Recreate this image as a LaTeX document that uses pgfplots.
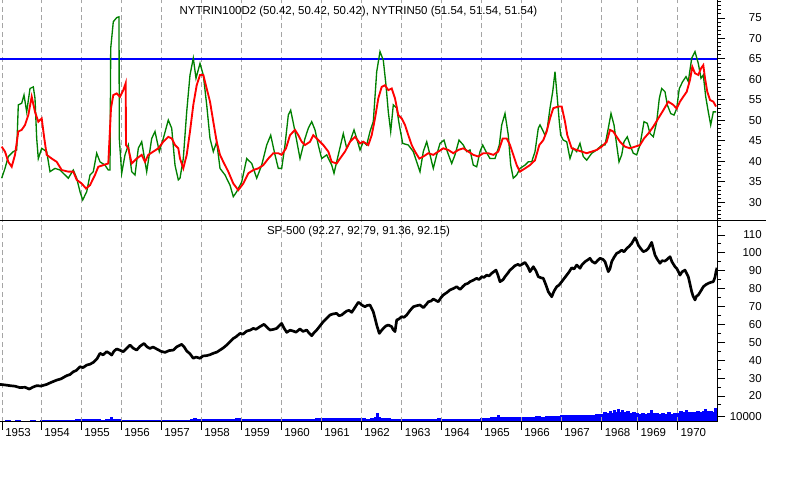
\documentclass[border=0pt]{standalone}
\usepackage{fontspec}
\setmainfont{Liberation Sans}
\usepackage{pgfplots}
\pgfplotsset{compat=1.18}
\definecolor{trgreen}{RGB}{0,128,0}
\definecolor{trred}{RGB}{255,0,0}
\definecolor{trblue}{RGB}{0,0,255}
\definecolor{gridgray}{RGB}{165,165,165}
\begin{document}
\begin{tikzpicture}
\useasboundingbox (0,0) rectangle (600pt,-375pt);
\pgfplotsset{
  mypanel/.style={
    scale only axis, width=537.75pt, xmin=0, xmax=717,
    anchor=north west,
    axis line style={draw=none},
    ytick pos=right, yticklabel pos=right,
    tick align=outside,
    major tick length=6pt, minor tick length=3pt,
    tick style={black, line width=0.75pt},
    xtick={2,41,81,121,161,201,241,281,321,361,401.7,441,481,521,561,601.5,637.3,677.3},
    xmajorgrids,
    major grid style={draw=gridgray, line width=0.75pt, dash pattern=on 3.75pt off 2.5pt},
    /pgf/number format/assume math mode=true,
    tick label style={font=\fontsize{8.6pt}{10pt}\selectfont},
    yticklabel style={anchor=east, inner sep=0pt, xshift=27.75pt},
  }
}
% ---------------- upper panel ----------------
\begin{axis}[mypanel, at={(0pt,0pt)}, height=165pt,
  ymin=25.70, ymax=79.40,
  ytick={30,35,...,75},
  minor ytick={26,27,28,29,31,32,33,34,36,37,38,39,41,42,43,44,46,47,48,49,51,52,53,54,56,57,58,59,61,62,63,64,66,67,68,69,71,72,73,74,76,77,78,79},
  xticklabels={}, every x tick/.style={draw=none},
]
\addplot[color=trblue, line width=1.1pt] coordinates {(0,65) (717,65)};
\addplot[trgreen, line width=1pt] coordinates {
(1.7,35.9) (5,38.3) (8.3,41.2) (13.3,42.4) (16.7,42.8) (18.3,53.8) (21.7,54.2) (24,56.2) (26.7,52.1) (30,57.8) (33.3,58.2) (35,55.4) (36.7,45.6) (38.3,40.7) (41.7,43.2) (46.7,42.4) (50,37.5) (55,38.3) (60,37.9) (65,36.7) (68.3,35.9) (73.3,37.9) (76.7,35.9) (80,32.6) (82.7,30.6) (86.7,32.6) (90,36.7) (93.3,37.5) (96.7,42.0) (100,39.9) (105,39.1) (108.3,37.9) (110,37.9) (110.7,67.6) (113.3,74.1) (116.7,75.1) (119,75.3) (119.3,45.6) (121.7,37.1) (125,41.6) (128.3,44.0) (131.7,37.5) (135,36.7) (138.3,43.2) (141.7,44.8) (146.7,37.5) (151.7,45.6) (155,47.3) (159.3,42.4) (163.3,45.6) (168.3,50.1) (171.7,48.1) (175,39.1) (178.3,35.5) (180,35.9) (183.3,40.7) (186.7,52.1) (190,61.1) (193.3,65.2) (196,60.3) (200,63.9) (203.3,61.1) (206.7,53.8) (210,45.6) (213.3,42.4) (216.7,44.8) (220,38.3) (225,36.7) (230,34.2) (233.3,31.4) (236.7,32.6) (241.7,35.0) (246.7,40.7) (251.7,39.5) (256.7,35.9) (261.7,39.1) (266.7,44.0) (270.7,46.4) (275,41.6) (278.3,38.3) (281.7,38.3) (285,44.0) (288.3,51.3) (290.7,52.5) (295,47.3) (300,40.7) (305,45.6) (308.3,48.1) (311.7,49.7) (315,47.7) (318.3,44.0) (321.7,40.7) (326.7,41.6) (331.7,39.1) (334,37.1) (338.3,41.6) (343.3,46.8) (346.7,43.2) (350,44.8) (354,47.7) (356.7,45.6) (360,42.8) (363.3,44.8) (366.7,44.0) (370,47.3) (373.3,49.7) (376.7,61.9) (380,66.8) (383.3,64.7) (386,58.6) (388.3,52.1) (390.7,47.3) (393.3,53.8) (396.7,53.0) (399.3,48.9) (402.7,44.4) (408.3,44.0) (413.3,42.4) (416.7,39.9) (420,37.5) (423.3,42.4) (426.7,44.8) (430,41.6) (433.3,38.3) (436.7,41.6) (440,44.4) (444,45.2) (447.3,42.4) (451.7,39.5) (455,41.6) (459,45.2) (463.3,44.0) (466.7,42.4) (470,42.8) (473.3,39.1) (476.7,38.7) (480,42.4) (482.7,44.0) (486,42.4) (490,40.7) (495,40.7) (499.3,44.0) (501.7,48.9) (505,51.7) (508.3,46.4) (510.7,39.1) (513.3,35.9) (516.7,36.7) (520,38.3) (525,39.1) (528.3,39.9) (531.7,39.9) (535,42.4) (538.3,48.1) (540,48.9) (543.3,47.3) (545,46.4) (547.3,48.1) (550,53.0) (552.7,57.0) (555,61.9) (557.3,55.4) (559.3,49.7) (560.7,46.4) (563.3,45.2) (566.7,44.8) (570,40.7) (573.3,43.2) (576.7,42.4) (580,44.4) (583.3,41.2) (586.7,40.3) (591.7,42.0) (596.7,42.8) (601.7,44.0) (605,44.0) (608.3,48.1) (611,51.7) (614,48.9) (616.7,44.0) (619,39.9) (621.7,41.6) (624,44.8) (627.3,46.0) (630,44.0) (633.3,42.0) (636.7,41.6) (640,44.0) (644,49.7) (647.3,49.3) (650,46.8) (653.3,46.0) (656.7,49.7) (659.3,55.4) (661.7,57.8) (665,57.0) (667.3,53.8) (670.7,51.7) (674,51.3) (676.7,52.9) (679.3,57.8) (682.7,59.5) (686,60.7) (688.3,59.5) (691.7,65.2) (695,66.8) (698.3,63.9) (701,60.3) (703.3,61.1) (705.7,55.8) (708.3,52.1) (710.7,48.9) (713.3,52.1) (716,52.1)
};
\addplot[trred, line width=1.4pt] coordinates {
(1.7,43.6) (5,42.4) (8.3,39.9) (11.7,38.7) (15,41.6) (18.3,47.3) (21.7,47.7) (25,48.9) (28.3,51.3) (31.7,55.8) (35,52.1) (38.3,49.7) (41.7,50.5) (44.3,45.6) (46.7,41.6) (51.7,40.7) (56.7,39.9) (61.7,37.9) (68.3,37.5) (73.3,37.5) (76.7,35.5) (81.7,34.6) (86,33.4) (90,34.2) (95,36.7) (98.3,38.7) (103.3,39.1) (108.3,39.5) (111,53.0) (113.3,56.2) (116.7,56.6) (120,55.8) (123.3,57.4) (125.7,59.1) (126,44.0) (128.3,43.2) (131.7,39.5) (136.7,40.7) (141.7,41.6) (145,39.9) (148.3,41.6) (153.3,42.4) (158.3,43.2) (163.3,44.8) (168.3,46.0) (171.7,45.6) (175,44.0) (178.3,43.2) (180,40.7) (183.3,38.3) (186.7,41.6) (190,47.3) (193.3,53.8) (196.7,58.6) (200,61.1) (203.3,61.1) (206.7,57.8) (210,54.6) (213.3,49.7) (216.7,44.8) (220,41.6) (223.3,39.9) (228.3,37.5) (233.3,34.6) (238.3,33.0) (243.3,34.6) (248.3,37.1) (253.3,37.9) (258.3,38.3) (263.3,39.1) (268.3,40.7) (273.3,42.0) (278.3,42.0) (281.7,41.6) (286,43.2) (290,46.4) (295,47.7) (298.3,46.4) (301.7,44.8) (305,44.0) (310,44.8) (313.3,46.4) (316.7,45.6) (320,44.8) (323.3,44.0) (328.3,42.4) (331.7,39.9) (336.7,39.5) (340,40.7) (345,42.4) (350,44.8) (355,46.0) (360,44.4) (363.3,44.8) (368.3,44.0) (371.7,46.4) (375,50.5) (378.3,55.4) (381.7,58.2) (385,58.6) (388.3,57.4) (391.7,57.8) (395,55.4) (398.3,51.3) (401.7,50.5) (405,48.9) (408.3,46.4) (411.7,44.0) (415,42.4) (419.3,40.7) (423.3,41.2) (428.3,42.0) (433.3,41.6) (438.3,42.4) (443.3,43.2) (448.3,42.8) (453.3,42.0) (458.3,42.8) (463.3,43.2) (468.3,42.4) (473.3,41.6) (478.3,41.2) (483.3,42.0) (488.3,42.0) (493.3,41.6) (498.3,42.4) (502.7,45.6) (506.7,45.6) (510,44.0) (513.3,41.6) (516.7,39.1) (520,37.5) (525,38.3) (530,39.1) (535,40.3) (539.3,44.0) (543.3,45.2) (546.7,47.3) (550,50.5) (553.3,53.0) (558.3,53.4) (561.7,53.4) (565,49.7) (567.3,46.4) (571.7,43.2) (576.7,42.8) (581.7,42.4) (586.7,42.0) (591.7,42.4) (596.7,42.8) (601.7,43.6) (606.7,44.8) (610,47.7) (613.3,47.3) (616.7,46.0) (620,44.8) (625,43.6) (630,43.2) (635,43.6) (640,44.0) (644,45.6) (648.3,46.8) (653.3,48.5) (658.3,50.5) (663.3,52.5) (668.3,54.6) (673.3,53.8) (676.7,52.9) (680,54.6) (683.3,55.8) (686.7,57.0) (690,59.9) (692.3,63.1) (695,61.5) (698.3,61.1) (701,62.7) (703.3,63.5) (705,60.3) (707.3,57.0) (710,55.0) (713.3,54.6) (716,53.4)
};
\end{axis}
% ---------------- lower panel: volume ----------------
\begin{axis}[scale only axis, width=537.75pt, height=151.275pt, anchor=north west,
  at={(0pt,-165pt)}, xmin=0, xmax=717, ymin=0, ymax=201.7, hide axis]
\addplot[draw=trblue, fill=trblue, line width=0.4pt, const plot] coordinates {
(0,0.7) (5,1) (10,0.5) (15,1) (20,0.7) (25,0.5) (30,1) (35,0.7) (40,1) (45,1.3) (50,1) (55,1.5) (60,1.2) (65,1.7) (70,1.5) (75,2) (78,2.5) (80,2.3) (85,2.5) (90,2) (95,2) (100,1.7) (105,2) (110,4) (112,2) (115,2) (120,1.5) (125,1.5) (130,1.7) (135,1.3) (140,1.5) (145,1.7) (150,1.3) (155,1.5) (160,1.5) (165,1.3) (170,1.7) (175,1.5) (180,1.7) (185,1.5) (190,2) (193,3.3) (196,2) (200,2) (205,2.3) (210,2) (215,2.3) (220,2.5) (225,2.3) (230,2.5) (235,3) (240,2.7) (245,2.5) (250,2.7) (255,2.3) (260,2.5) (265,2.7) (270,2.3) (275,2.5) (280,2.3) (285,2) (290,2.5) (295,2.3) (300,2.5) (305,2.3) (310,2.7) (315,3) (320,3.3) (325,3.7) (330,3.3) (335,3) (340,3.3) (345,3) (350,3.3) (355,3) (360,3) (365,2.7) (370,3) (374,4) (376,8) (378,4.5) (380,3.3) (385,3) (390,2.7) (395,2.5) (400,2.3) (405,2.3) (410,2.5) (415,2.3) (420,2.3) (425,2.5) (430,2.3) (435,2.7) (437,3.5) (440,2.5) (445,2.3) (450,2.5) (455,2.5) (460,2.3) (465,2.5) (470,2.5) (475,2.7) (480,3) (485,3.5) (490,4) (495,4.3) (497,6) (499,4) (505,4.5) (510,4.3) (515,4.7) (520,4.3) (525,4.5) (530,4.3) (535,5) (540,4.3) (545,5) (550,5.3) (555,5.7) (560,6) (565,6.3) (570,6) (575,6.7) (580,6.3) (585,6.7) (590,6.3) (595,7) (600,7.3) (603,9) (606,8) (609,10.5) (611,8.5) (613,11) (615,9) (617,12) (619,9.5) (621,11) (623,9) (626,10) (629,8.5) (632,9) (635,8) (638,7.5) (641,8) (644,7.5) (647,8.5) (650,11.5) (652,8) (655,8.5) (658,7.5) (661,8) (664,7.5) (667,9) (670,7.5) (673,8.5) (676,8) (679,10) (682,9) (685,11) (687,9) (690,9.5) (693,9) (696,10.5) (699,9) (702,10) (704,12.5) (706,10) (709,10.5) (712,9.5) (714,13.5) (716,11) (717,11)
} \closedcycle;
\end{axis}
% ---------------- lower panel: SP-500 ----------------
\begin{axis}[mypanel, at={(0pt,-165pt)}, height=151.275pt,
  ymin=5.65, ymax=118.4,
  ytick={20,30,...,110},
  minor ytick={15,25,...,115},
  extra y ticks={8.45}, extra y tick labels={10000},
  xticklabels={1953,1954,1955,1956,1957,1958,1959,1960,1961,1962,1963,1964,1965,1966,1967,1968,1969,1970},
  xtick pos=bottom,
  xticklabel style={anchor=north west, inner sep=0pt, xshift=2.25pt, yshift=1.3pt},
]
\addplot[black, line width=2pt, line join=round] coordinates {
(0,26.5) (5,26.2) (10,25.8) (15,25.5) (20,24.7) (25,24.9) (29.3,23.9) (33,25.0) (36.7,25.8) (41,25.6) (46.7,26.5) (51,27.6) (56.7,28.9) (61,29.6) (66.7,31.4) (70,32.0) (73.3,33.6) (76,34.2) (80,36.4) (83,35.9) (86.7,37.3) (90,37.8) (93.3,38.8) (97,40.8) (100,43.9) (103,43.0) (106.7,44.8) (109,44.1) (111.7,42.9) (114,45.1) (116.7,46.3) (120,45.6) (123.3,44.8) (127,46.9) (130,48.5) (133,46.8) (136.7,45.7) (140,47.8) (144,49.4) (147,47.5) (150,46.6) (153,47.4) (156.7,46.3) (161,45.0) (165,44.4) (169,45.4) (173.3,45.7) (177,47.6) (181.7,48.9) (184,47.6) (186.7,45.2) (190,43.6) (193.3,41.1) (196,41.8) (200,41.1) (203,42.4) (206.7,42.6) (210,43.1) (213.3,43.9) (217,44.6) (220,45.7) (223,46.8) (226.7,48.5) (230,50.3) (233.3,52.2) (236,53.1) (240,55.0) (243,54.6) (246.7,56.3) (250,56.8) (253.3,57.8) (256,57.3) (260,58.8) (264,60.1) (267,58.4) (270,56.9) (273,57.2) (276.7,57.8) (281.7,60.6) (284,58.0) (286.7,55.6) (290,56.8) (293.3,56.3) (296,55.7) (300,57.5) (303,56.1) (306.7,56.9) (309,55.2) (311.7,53.7) (314,55.4) (316.7,56.9) (320,59.2) (323.3,61.6) (326,63.1) (330,65.3) (333,65.9) (336.7,66.2) (339,64.9) (341.7,65.3) (344,66.4) (346.7,67.5) (349,67.9) (351.7,66.8) (354,68.7) (358.3,72.4) (360,71.8) (362,70.8) (365,69.9) (367,70.6) (370,70.9) (373.3,67.1) (375,63.5) (376.7,59.7) (379.3,55.0) (381,56.3) (383.3,57.8) (386,59.2) (388.3,59.7) (391.7,58.8) (393,57.2) (395,56.0) (396.7,62.5) (399,63.1) (401.7,64.4) (404,64.0) (406.7,65.3) (410,67.8) (413.3,69.9) (416,70.4) (420,70.9) (423.3,69.4) (426,71.0) (428.3,72.7) (431,73.1) (433.3,74.2) (436,73.4) (438.3,72.7) (441,75.0) (443.3,76.5) (447,77.9) (450,79.3) (453,80.0) (456.7,81.1) (460,79.6) (463,81.3) (465,82.4) (468,83.0) (470,83.9) (473,84.7) (476.7,85.8) (479,85.1) (481.7,86.7) (484,86.3) (486.7,87.6) (489,87.1) (491.7,88.6) (496,90.4) (498,87.5) (500,83.9) (503,85.0) (505,86.7) (508,88.8) (510,90.4) (513,91.8) (515,92.9) (518,93.6) (520,92.9) (523,94.0) (525,94.7) (528,92.1) (530,89.5) (533.3,92.3) (536,89.9) (538.3,86.7) (541,86.1) (543.3,85.8) (546,82.0) (548.3,78.3) (551.7,75.5) (554,78.6) (556.7,81.1) (559,82.0) (561.7,83.9) (564,85.6) (566.7,87.6) (569,89.3) (571.7,91.7) (574,91.0) (576.7,93.2) (580,91.4) (582,93.4) (585,95.1) (588,96.2) (590,97.0) (592,95.3) (595,94.2) (598,96.0) (600,97.0) (603,96.4) (605,95.1) (608.3,89.5) (610,91.2) (611.7,95.1) (614,97.5) (616.7,99.8) (619,100.4) (621.7,101.6) (624,100.6) (626.7,102.5) (629,103.6) (631.7,105.3) (635,108.5) (636.5,107.0) (638.3,104.4) (641,102.2) (643.3,100.7) (646,101.3) (648.3,102.5) (651.7,105.9) (653,103.0) (655,98.8) (657,96.7) (660,94.2) (662,95.6) (665,95.5) (667,96.3) (670,97.9) (672,95.0) (675,92.3) (677,91.1) (680,87.6) (682,89.4) (685,90.4) (688.3,86.7) (690,82.6) (691.7,78.3) (693,76.0) (695,73.7) (696.5,75.8) (698.3,76.5) (701,78.9) (703.3,81.1) (706,82.3) (708.3,83.0) (711,83.6) (713.3,83.9) (715,86.4) (716,89.5) (717,91.7)
};
\end{axis}
% frame lines
\draw[black, line width=0.75pt] (537.75pt,0pt) -- (537.75pt,-316.275pt);
\draw[black, line width=0.75pt] (0pt,-316.275pt) -- (537.75pt,-316.275pt);
\draw[black, line width=0.75pt] (0pt,-165pt) -- (574.5pt,-165pt);
% titles
\node[anchor=base, inner sep=0pt, font=\fontsize{8.6pt}{10pt}\selectfont] at (268.875pt,-10.5pt) {NYTRIN100D2 (50.42, 50.42, 50.42), NYTRIN50 (51.54, 51.54, 51.54)};
\node[anchor=base, inner sep=0pt, font=\fontsize{8.6pt}{10pt}\selectfont] at (268.875pt,-175.5pt) {SP-500 (92.27, 92.79, 91.36, 92.15)};
\end{tikzpicture}
\end{document}
